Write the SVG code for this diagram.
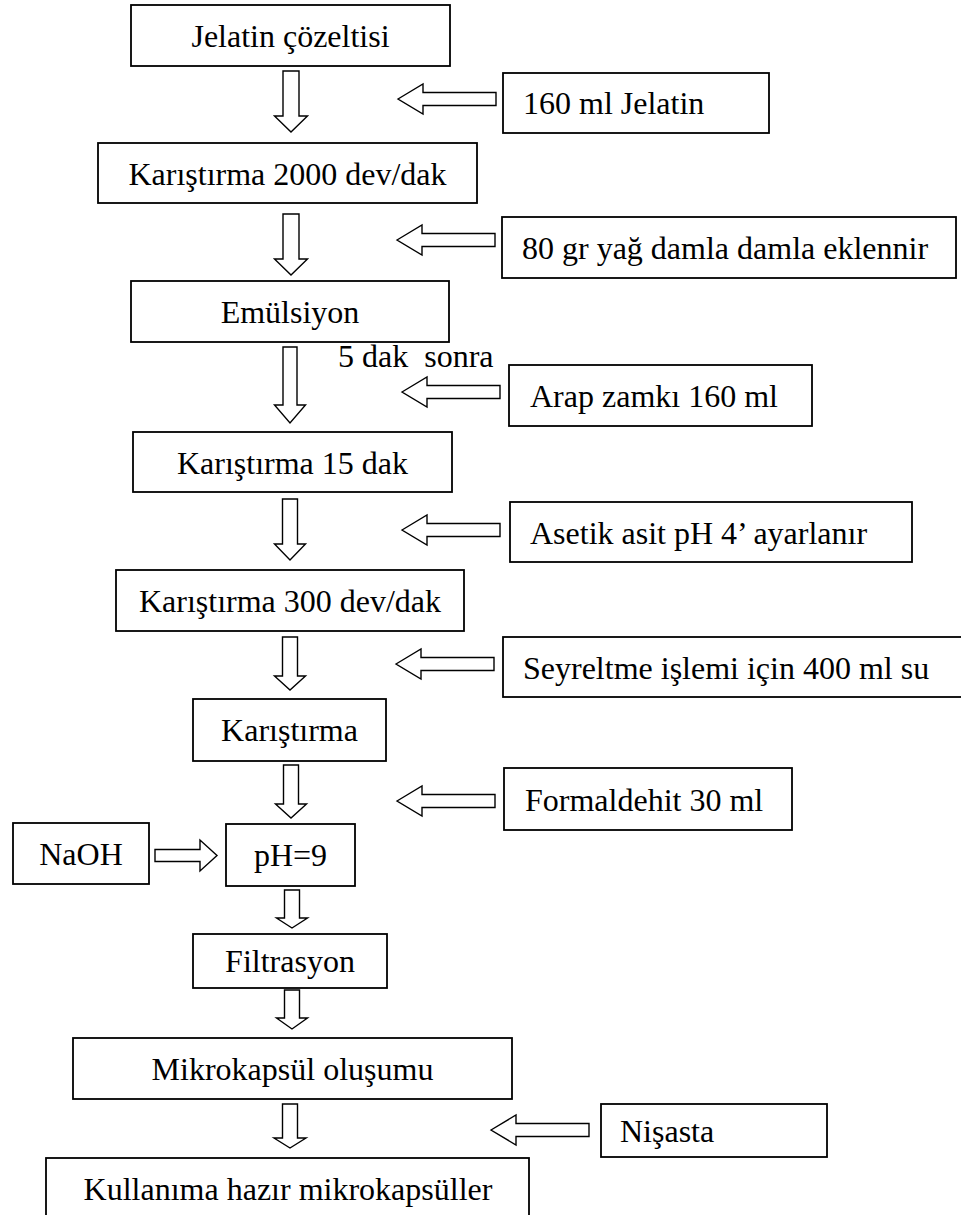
<svg xmlns="http://www.w3.org/2000/svg" xmlns:xlink="http://www.w3.org/1999/xlink" width="961" height="1215" viewBox="0 0 961 1215">
<style>
.box{fill:#fff;stroke:#000;stroke-width:1.8}
.arr{fill:#fff;stroke:#000;stroke-width:1.4;stroke-linejoin:miter}
.t{font-family:"Liberation Serif","Times New Roman",serif;font-size:32px;fill:#000}
.c{text-anchor:middle}
</style>
<defs>
<path id="la" d="M0,0 L25,-15 L25,-6.5 L98,-6.5 L98,6.5 L25,6.5 L25,15 Z"/>
</defs>
<rect width="961" height="1215" fill="#fff"/>

<g id="connectors">
<path class="arr" d="M283,71 H299 V116 H307.5 L291,132 L274.5,116 H283 Z"/>
<path class="arr" d="M283,214 H299 V259 H307.5 L291,275 L274.5,259 H283 Z"/>
<path class="arr" d="M283,347 H297 V405 H305.5 L290,423 L274.5,405 H283 Z"/>
<path class="arr" d="M282.5,499 H297.5 V544 H305.5 L290,560 L274.5,544 H282.5 Z"/>
<path class="arr" d="M282.5,637 H297.5 V676 H305.5 L290,690 L274.5,676 H282.5 Z"/>
<path class="arr" d="M283.5,765 H298.5 V804 H306.5 L291,818 L275.5,804 H283.5 Z"/>
<path class="arr" d="M284.5,890 H299.5 V918 H307.5 L292,928 L276.5,918 H284.5 Z"/>
<path class="arr" d="M284.5,990 H299.5 V1018 H307.5 L292,1029 L276.5,1018 H284.5 Z"/>
<path class="arr" d="M282.5,1104 H297.5 V1138 H306 L290,1148 L274,1138 H282.5 Z"/>
<use xlink:href="#la" href="#la" class="arr" x="398" y="99"/>
<use xlink:href="#la" href="#la" class="arr" x="397" y="240"/>
<use xlink:href="#la" href="#la" class="arr" x="402" y="392"/>
<use xlink:href="#la" href="#la" class="arr" x="402" y="530"/>
<use xlink:href="#la" href="#la" class="arr" x="396" y="664"/>
<use xlink:href="#la" href="#la" class="arr" x="397" y="801"/>
<use xlink:href="#la" href="#la" class="arr" x="491" y="1130"/>
<path class="arr" d="M155,849.5 H200 V840 L217,855.5 L200,871 V861.5 H155 Z"/>
</g>

<g id="n1"><rect class="box" x="131" y="5" width="319" height="61"/><text class="t c" x="290.5" y="47">Jelatin çözeltisi</text></g>
<g id="n2"><rect class="box" x="98" y="143" width="379" height="60"/><text class="t c" x="287.5" y="185">Karıştırma 2000 dev/dak</text></g>
<g id="n3"><rect class="box" x="131" y="281" width="318" height="61"/><text class="t c" x="290" y="323">Emülsiyon</text></g>
<g id="n4"><rect class="box" x="133" y="432" width="319" height="60"/><text class="t c" x="292.5" y="474">Karıştırma 15 dak</text></g>
<g id="n5"><rect class="box" x="116" y="570" width="348" height="61"/><text class="t c" x="290" y="612">Karıştırma 300 dev/dak</text></g>
<g id="n6"><rect class="box" x="193" y="699" width="193" height="62"/><text class="t c" x="289.5" y="741">Karıştırma</text></g>
<g id="n7"><rect class="box" x="226" y="824" width="129" height="62"/><text class="t c" x="290.5" y="866">pH=9</text></g>
<g id="n8"><rect class="box" x="13" y="823" width="136" height="61"/><text class="t c" x="81" y="865">NaOH</text></g>
<g id="n9"><rect class="box" x="193" y="934" width="194" height="54"/><text class="t c" x="290" y="972">Filtrasyon</text></g>
<g id="n10"><rect class="box" x="73" y="1038" width="439" height="61"/><text class="t c" x="292.5" y="1080">Mikrokapsül oluşumu</text></g>
<g id="n11"><rect class="box" x="46" y="1158" width="483" height="70"/><text class="t c" x="288" y="1200">Kullanıma hazır mikrokapsüller</text></g>

<g id="s1"><rect class="box" x="503" y="73" width="266" height="60"/><text class="t" x="523" y="114">160 ml Jelatin</text></g>
<g id="s2"><rect class="box" x="502" y="217" width="454" height="61"/><text class="t" x="522" y="259">80 gr yağ damla damla eklennir</text></g>
<g id="s3"><rect class="box" x="509" y="365" width="303" height="61"/><text class="t" x="530" y="407">Arap zamkı 160 ml</text></g>
<g id="s4"><rect class="box" x="510" y="502" width="402" height="60"/><text class="t" x="530" y="544">Asetik asit pH 4’ ayarlanır</text></g>
<g id="s5"><rect class="box" x="503" y="637" width="470" height="60"/><text class="t" x="523" y="679">Seyreltme işlemi için 400 ml su</text></g>
<g id="s6"><rect class="box" x="504" y="768" width="288" height="62"/><text class="t" x="525" y="811">Formaldehit 30 ml</text></g>
<g id="s7"><rect class="box" x="601" y="1104" width="226" height="53"/><text class="t" x="620" y="1142">Nişasta</text></g>

<text class="t" x="338" y="367" xml:space="preserve">5 dak  sonra</text>
</svg>
